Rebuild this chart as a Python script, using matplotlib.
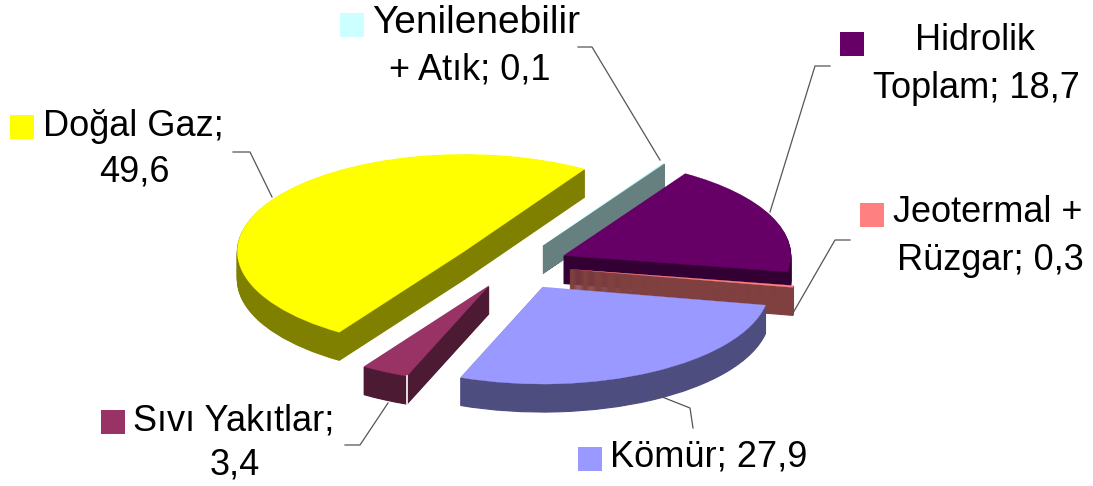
import math

import matplotlib
matplotlib.use("Agg")
import matplotlib.pyplot as plt

plt.rcParams["font.family"] = ["Liberation Sans", "DejaVu Sans"]

# slices, counter clockwise from the start angle
names = ["Doğal Gaz", "Sıvı Yakıtlar", "Kömür", "Jeotermal + Rüzgar", "Hidrolik Toplam", "Yenilenebilir + Atık"]
values = [49.6, 3.4, 27.9, 0.3, 18.7, 0.1]
explode = [0.26, 0.24, 0.26, 0.25, 0.24, 0.24]
top_colors = ["#ffff00", "#993366", "#9999ff", "#ff8080", "#660066", "#ccffff"]
side_colors = ["#808000", "#4d1a33", "#4d4d80", "#804040", "#330033", "#668080"]
# back to front drawing order of the slices
draw_order = [5, 4, 3, 2, 0, 1]

W, H = 1093, 486
RX, RY = 227.0, 97.0  # ellipse radii in pixels
CX, CY = 514.0, 265.0
DEPTH = 28
START = 58

fig = plt.figure(figsize=(W / 100, H / 100), dpi=100)
ax = fig.add_axes([0, 0, 1, 1])


def draw_layer(d, colors, z_extra, lw):
    wedges, _ = ax.pie(
        values,
        explode=explode,
        colors=colors,
        startangle=START,
        center=(CX / RX, (H - CY - d) / RY),
        radius=1,
        wedgeprops={"linewidth": lw},
    )
    for i, w in enumerate(wedges):
        w.set_edgecolor(colors[i])
        w.set_zorder(draw_order.index(i) * 10 + z_extra)
    return wedges


# pile of dark pies gives the thickness, lit pie goes on top
for d in range(DEPTH, 0, -1):
    draw_layer(d, side_colors, (DEPTH - d) / DEPTH, 0.8)
top = draw_layer(0, top_colors, 2, 0.2)

# white corner on the small slice
w = top[1]
a = math.radians(w.theta2)
ax.plot(
    [w.center[0] + math.cos(a)] * 2,
    [w.center[1] + math.sin(a), w.center[1] + math.sin(a) - DEPTH / RY],
    color="white",
    lw=1.2,
    zorder=draw_order.index(1) * 10 + 3,
)

ax.set_aspect("auto")
ax.set_xlim(0, W / RX)
ax.set_ylim(0, H / RY)
ax.axis("off")

# overlay in pixel units for labels and leader lines
ov = fig.add_axes([0, 0, 1, 1])
ov.set_xlim(0, W)
ov.set_ylim(H, 0)
ov.axis("off")
ov.patch.set_alpha(0)

leaders = [
    ([233, 250, 272], [152, 152, 197]),
    ([578, 592, 660], [47, 47, 160]),
    ([830, 815, 770], [66, 66, 212]),
    ([850, 835, 793], [240, 240, 313]),
    ([345, 360, 388], [445, 445, 403]),
    ([652, 690, 693], [393, 408, 428]),
]
for xs, ys in leaders:
    ov.plot(xs, ys, color="#555555", lw=0.9)

keys = [(10, 115, 0), (340, 13, 5), (840, 32, 4), (860, 203, 3), (101, 410, 1), (578, 447, 2)]
for x, y, i in keys:
    ov.add_patch(plt.Rectangle((x, y), 24, 24, color=top_colors[i], lw=0))

FS = 26
labels = [
    (43, 126, "left", "Doğal Gaz;", FS),
    (134, 172, "center", "49,6", FS),
    (476, 23, "center", "Yenilenebilir", 28),
    (470, 70, "center", "+ Atık; 0,1", FS),
    (975, 40, "center", "Hidrolik", FS),
    (976, 88, "center", "Toplam; 18,7", FS),
    (893, 212, "left", "Jeotermal +", FS),
    (897, 260, "left", "Rüzgar; 0,3", FS),
    (133, 421, "left", "Sıvı Yakıtlar;", FS),
    (235, 465, "center", "3,4", FS),
    (610, 457, "left", "Kömür; 27,9", FS),
]
for x, y, ha, s, fs in labels:
    ov.text(x, y, s, ha=ha, va="center", fontsize=fs, color="black")

fig.savefig("out.png", dpi=100)
